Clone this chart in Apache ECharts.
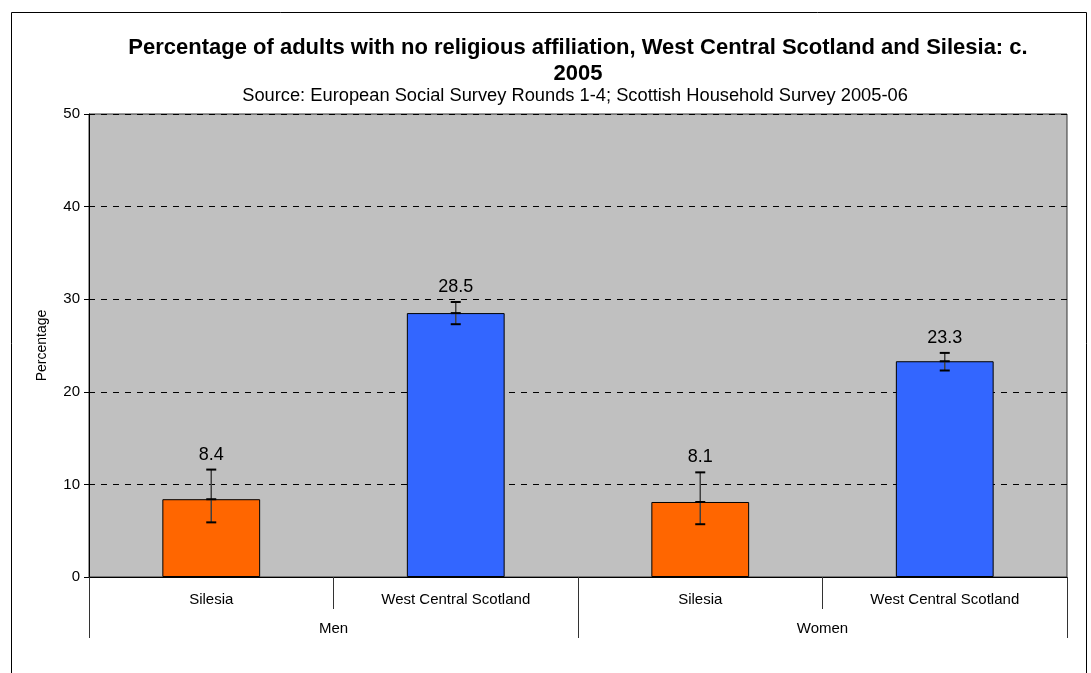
<!DOCTYPE html>
<html>
<head>
<meta charset="utf-8">
<script src="https://cdn.jsdelivr.net/npm/echarts@6/dist/echarts.min.js"></script>
<style>html,body{margin:0;padding:0;background:#fff}#c{width:1091px;height:673px}</style>
</head>
<body>
<div id="c"></div>
<script>
var categories = ['Silesia', 'West Central Scotland', 'Silesia', 'West Central Scotland'];
var groups = ['Men', 'Women'];
var values = [8.4, 28.5, 8.1, 23.3];
var lowerCI = [5.9, 27.3, 5.7, 22.3];
var upperCI = [11.6, 29.7, 11.3, 24.2];
var barColors = ['#FF6600', '#3366FF', '#FF6600', '#3366FF'];

var chart = echarts.init(document.getElementById('c'));
var FONT = 'Liberation Sans, Arial, sans-serif';

chart.setOption({
  backgroundColor: '#fff',
  animation: false,
  title: [{
    text: 'Percentage of adults with no religious affiliation, West Central Scotland and Silesia: c.\n2005',
    left: 573,
    textAlign: 'center',
    top: 30,
    textStyle: {fontFamily: FONT, fontSize: 22, fontWeight: 'bold', color: '#000', lineHeight: 26}
  }, {
    text: 'Source: European Social Survey Rounds 1-4; Scottish Household Survey 2005-06',
    left: 570,
    textAlign: 'center',
    top: 80,
    textStyle: {fontFamily: FONT, fontSize: 18.3, fontWeight: 'normal', color: '#000', lineHeight: 22}
  }],
  graphic: [{
    type: 'rect', shape: {x: 11.5, y: 12.5, width: 1075, height: 700},
    style: {fill: 'none', stroke: '#000', lineWidth: 1}, silent: true
  }],
  grid: {left: 89, right: 24, top: 114, bottom: 96, show: true,
    backgroundColor: '#C0C0C0', borderColor: '#333', borderWidth: 1},
  xAxis: [{
    type: 'category', data: categories, position: 'bottom',
    axisLine: {show: true, lineStyle: {color: '#000'}},
    axisTick: {show: true, length: 32, lineStyle: {color: '#333'}},
    axisLabel: {fontFamily: FONT, fontSize: 15, color: '#000', margin: 15}
  }, {
    type: 'category', data: groups, position: 'bottom',
    axisLine: {show: false},
    axisTick: {show: true, length: 61, lineStyle: {color: '#333'}},
    axisLabel: {fontFamily: FONT, fontSize: 15, color: '#000', margin: 44}
  }],
  yAxis: {
    type: 'value', min: 0, max: 50, interval: 10,
    name: 'Percentage', nameLocation: 'middle', nameRotate: 90, nameGap: 40,
    nameTextStyle: {fontFamily: FONT, fontSize: 14, color: '#000'},
    axisLine: {show: true, lineStyle: {color: '#000'}},
    axisTick: {show: true, length: 5, lineStyle: {color: '#000'}},
    axisLabel: {fontFamily: FONT, fontSize: 15, color: '#000', margin: 9},
    splitLine: {show: true, lineStyle: {color: '#000', type: [6, 6], width: 1}}
  },
  series: [{
    type: 'bar', xAxisIndex: 0, barWidth: '40%',
    data: values.map(function (v, i) {
      return {value: v, itemStyle: {color: barColors[i], borderColor: '#000', borderWidth: 1}};
    })
  }, {
    type: 'custom', xAxisIndex: 0, z: 10,
    data: values.map(function (v, i) { return [i, v, lowerCI[i], upperCI[i]]; }),
    renderItem: function (params, api) {
      var x = api.coord([api.value(0), 0])[0];
      var yv = api.coord([api.value(0), api.value(1)])[1];
      var yl = api.coord([api.value(0), api.value(2)])[1];
      var yu = api.coord([api.value(0), api.value(3)])[1];
      var hw = 5;
      var cap = {stroke: '#000', lineWidth: 2};
      return {type: 'group', children: [
        {type: 'line', shape: {x1: x, y1: yu, x2: x, y2: yl}, style: {stroke: '#404040', lineWidth: 1.5}},
        {type: 'line', shape: {x1: x - hw, y1: yu, x2: x + hw, y2: yu}, style: cap},
        {type: 'line', shape: {x1: x - hw, y1: yl, x2: x + hw, y2: yl}, style: cap},
        {type: 'line', shape: {x1: x - hw, y1: yv, x2: x + hw, y2: yv}, style: cap},
        {type: 'text', x: x, y: yu - 6, style: {text: String(api.value(1)), textAlign: 'center', textVerticalAlign: 'bottom',
          font: '18px ' + FONT, fill: '#000'}}
      ]};
    }
  }]
});
</script>
</body>
</html>
